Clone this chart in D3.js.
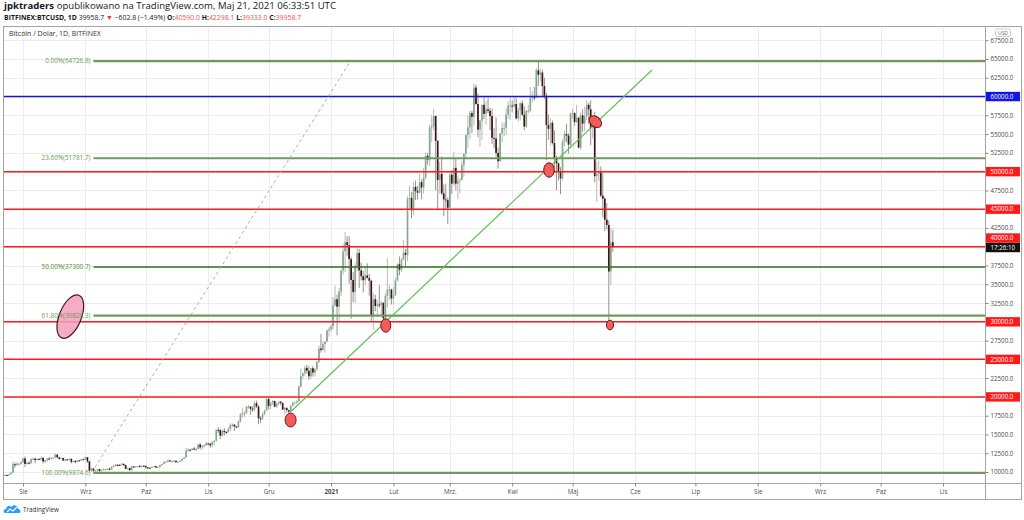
<!DOCTYPE html>
<html><head><meta charset="utf-8">
<script src="https://cdn.jsdelivr.net/npm/d3@7"></script>
<style>body{margin:0;background:#fff}svg{display:block;font-family:"Open Sans",sans-serif}</style>
</head><body><svg id="c" width="1024" height="520"></svg>
<script>
// ---------- DATA ----------
const startDay = "2020-07-23";
const firstOpen = 9530;
const closes = [
 9600,9540,9700,9930,11030,10910,11100,11110,11330,
 11800,11070,11220,11190,11740,11770,11600,11750,11680,11880,11410,11580,11780,11770,11870,11910,12300,11960,11760,11870,11520,11680,11650,11760,11350,11470,11320,11540,11510,11710,11680,
 11970,11420,10170,10470,10170,10250,10380,10130,10250,10360,10400,10440,10330,10680,10790,10960,10950,10940,11090,10920,10420,10540,10240,10740,10690,10730,10770,10700,10840,10780,
 10620,10570,10550,10670,10790,10600,10670,10920,11060,11300,11380,11550,11430,11430,11500,11320,11370,11510,11750,11920,12820,12970,12930,13120,13030,13070,13650,13280,13460,13560,13800,
 13760,13550,14030,14150,15590,15580,14830,15480,15330,15310,15700,16280,16320,16070,15960,16720,17650,17800,17820,18680,18720,18420,18370,19170,18710,17150,17140,17720,18180,19700,
 18790,19220,19450,18700,19150,19360,19170,18320,18550,18250,18040,18800,19170,19270,19440,21350,22800,23150,23870,23480,22750,23820,23240,23730,24690,26440,26250,27030,27360,28840,29000,
 29390,32200,33000,32020,34040,36820,39390,40600,40200,38350,35570,33960,37400,39170,36850,36070,35550,36180,35820,35470,30830,33010,32100,32300,32260,32520,30460,33470,34300,34300,33110,
 33530,35510,37670,36950,38300,39200,38900,46400,46500,44850,47970,47400,47200,48600,47900,49200,52100,51600,55900,56000,57400,54100,48900,49700,47100,46300,46200,45200,
 49600,48400,50500,48400,48800,48900,50900,52400,54900,55900,57800,57300,61200,59000,55600,56800,58900,57700,58300,58100,57400,54500,54400,52500,51400,55100,55800,55800,57600,58800,58800,
 58700,59000,57100,58200,59100,57600,56000,58100,58100,59800,59900,59800,63500,62900,63200,61400,60100,56200,55700,56500,53800,51700,51100,50100,49100,54000,55000,54800,53600,57700,
 57800,56600,57200,53200,57500,56400,57400,58900,58300,55800,56700,49400,49700,49900,46800,46400,43600,42900,36700,40590,39958.7
];
const highs = [
 9680,9640,9740,10050,11400,11240,11330,11180,11450,
 11880,12080,11460,11410,11800,11910,11920,11810,11800,12060,11950,11630,11810,11990,11960,11930,12470,12400,12030,11900,11900,11690,11720,11820,11770,11530,11590,11560,11600,11720,11790,
 12060,11980,11440,10570,10500,10280,10390,10430,10350,10490,10410,10480,10570,10790,10950,11100,11050,11040,11180,11100,10990,10570,10540,10770,10780,10780,10800,10950,10860,10850,
 10920,10630,10600,10690,10800,10800,10690,10960,11110,11480,11440,11720,11560,11550,11560,11540,11400,11530,11820,12020,13220,13190,13020,13160,13340,13240,13790,13850,13630,13690,14050,
 13900,13830,14070,14250,15750,15980,15770,15650,15850,15480,15970,16480,16470,16330,16150,16880,17850,18480,18140,18790,18960,18720,18770,19400,19490,18900,17450,17880,18330,19860,
 19920,19300,19570,19530,19170,19420,19420,19300,18640,18560,18280,18950,19420,19350,19570,21560,23770,23280,24170,24300,24100,23850,24100,23800,24770,26800,28400,27400,27400,28990,29300,
 29650,33300,34800,33600,34500,36950,40400,41950,41400,41400,38600,36600,37800,40100,39700,37900,36800,37300,37800,36400,35600,33800,33600,32900,34900,32800,32600,33800,38500,34900,34400,
 34600,35900,37800,38700,38500,40900,39700,46700,48100,47300,48600,48800,48100,49700,49000,50500,52600,52500,56300,57500,58350,57500,54200,51300,52000,48300,48400,46600,
 49800,50200,52600,51800,49500,49200,51400,52400,54900,57400,58100,58100,61700,61600,60400,56900,58900,60100,59400,59900,58500,58400,55800,57200,53200,55100,56600,56500,58400,59400,59800,
 59500,60100,59800,58500,59300,59500,58700,58200,58900,61300,60700,61300,63800,64800,63800,63600,62500,60500,57600,57100,56800,55500,52100,51200,50600,54300,55500,56400,55100,57900,
 58400,57900,58900,57200,57900,58300,58600,59500,59200,59500,56800,58000,51300,51500,50700,49800,46600,45800,43500,42500,42298.1
];
const lows = [
 9470,9460,9520,9650,9900,10580,10850,10830,10990,
 11220,10660,10990,11000,11080,11600,11160,11520,11570,11520,11140,11180,11300,11650,11700,11690,11800,11820,11620,11680,11490,11390,11560,11600,11130,11260,11150,11290,11450,11500,11590,
 11630,11200,10050,9990,9875,9990,9900,9990,10060,10220,10200,10290,10200,10260,10630,10690,10770,10820,10890,10760,10360,10350,10140,10200,10580,10630,10640,10640,10650,10680,
 10440,10380,10510,10520,10620,10540,10560,10560,10830,11050,11270,11250,11300,11280,11270,11230,11310,11350,11410,11700,11900,12700,12730,12880,12920,12800,13050,12980,12980,13140,13450,
 13620,13240,13300,13550,14080,15210,14380,14730,14840,15090,15280,15450,15980,15470,15820,15900,16560,17230,17340,17770,18420,17650,18000,18080,18550,16350,16520,16900,17550,18170,
 18340,18350,18930,18610,18580,18920,18920,18230,17690,17950,17600,18000,18720,19000,19060,19300,21250,22350,22800,23060,22250,22400,22700,22700,23460,24500,25900,26100,25900,27320,28000,
 28700,28950,32000,28200,29900,33450,36300,36600,38800,35100,30400,32600,32500,36700,34500,35500,33900,34900,35800,33500,30100,28900,31400,30900,31900,30900,29300,29900,31900,32900,32300,
 32300,33450,35400,36200,36600,38200,37400,38100,45000,43800,44200,46200,46300,47100,46300,47100,48900,50900,50700,53900,55500,47500,45000,47100,46900,44100,45000,43000,
 45100,47000,48100,47500,46300,47100,48900,49300,51900,53200,54300,55100,56100,58900,54600,53300,54200,57000,56300,57800,55500,53700,53100,52000,50400,51300,53900,54700,54900,57000,56900,
 57900,58500,56900,56700,56800,57400,55500,55800,57700,57900,59200,59500,59800,61400,62000,60000,59700,51500,54200,53500,53600,50500,47500,48800,47000,48800,53400,53900,52400,53100,
 57100,56100,56500,53100,52900,55300,55400,56900,56300,53500,54400,48600,46000,48800,46600,43900,42100,42300,30000,34900,39333
];
const priceTicks = [10000,12500,15000,17500,20000,22500,25000,27500,30000,32500,35000,37500,40000,42500,45000,47500,50000,52500,55000,57500,60000,62500,65000,67500];
const monthTicks = ["2020-08-01","2020-09-01","2020-10-01","2020-11-01","2020-12-01","2021-01-01","2021-02-01","2021-03-01","2021-04-01","2021-05-01","2021-06-01","2021-07-01","2021-08-01","2021-09-01","2021-10-01","2021-11-01"];
const monthLabels = ["Sie","Wrz","Paź","Lis","Gru","2021","Lut","Mrz.","Kwi","Maj","Cze","Lip","Sie","Wrz","Paź","Lis"];
const redLevels = [50000,45000,40000,30000,25000,20000];
const blueLevels = [60000];
const fibPercents = ["0.00%","23.60%","50.00%","61.80%","100.00%"];
const fibValues = [64726.8,51781.7,37300.7,30828.3,9874.6];
const fibAnchorDate = "2020-09-05 00";
const trendDashed = [["2020-09-05 19",10625],["2021-01-10 10",64600]];
const trendSolid = [["2020-12-12 02",18056],["2021-06-09 11",63535]];
const redMarkers = [["2020-12-11 22",16925],["2021-01-28 05",29510],["2021-04-19 07",50218],["2021-05-12 07",56650],["2021-05-19 14",29576]];
const pinkMarker = ["2020-08-24 12",30700];
const countdown = "17:26:10";
const headerAuthor = "jpktraders";
const headerPublished = " opublikowano na TradingView.com, Maj 21, 2021 06:33:51 UTC";
const headerSymbol = "BITFINEX:BTCUSD, 1D";
const headerLast = "39958.7";
const headerChange = "−602.8 (−1.49%)";
const ohlcKeys = ["O:","H:","L:","C:"];
const ohlcVals = ["40590.0","42298.1","39333.0","39958.7"];
const chartTitle = "Bitcoin / Dolar, 1D, BITFINEX";

// ---------- SETUP ----------
const svg = d3.select("#c");
const W = 1024, H = 520;
const L = 4, R = 985, T = 27, B = 483;
const parseD = d3.utcParse("%Y-%m-%d");
const parseH = d3.utcParse("%Y-%m-%d %H");
const x = d3.scaleUtc().domain([parseD("2020-08-01"), parseD("2021-11-01")]).range([23, 943]);
const y = d3.scaleLinear().domain([10000, 65000]).range([472, 59]);
const start = parseD(startDay);
const candles = closes.map((c, i) => ({
  d: d3.utcDay.offset(start, i),
  o: i === 0 ? firstOpen : closes[i - 1],
  c, h: highs[i], l: lows[i]
}));

svg.append("rect").attr("width", W).attr("height", H).attr("fill", "#fff");
svg.append("defs").append("clipPath").attr("id", "plot")
  .append("rect").attr("x", L).attr("y", T).attr("width", R - L).attr("height", B - T);

const plot = svg.append("g").attr("clip-path", "url(#plot)");

// grid
plot.append("g").selectAll("line").data(monthTicks).join("line")
  .attr("x1", d => Math.round(x(parseD(d))) + 0.5).attr("x2", d => Math.round(x(parseD(d))) + 0.5)
  .attr("y1", T).attr("y2", B).attr("stroke", "#ececec").attr("stroke-width", 1);
plot.append("g").selectAll("line").data(priceTicks).join("line")
  .attr("x1", L).attr("x2", R)
  .attr("y1", d => Math.round(y(d)) + 0.5).attr("y2", d => Math.round(y(d)) + 0.5)
  .attr("stroke", "#ececec").attr("stroke-width", 1);

// candles
const upCol = "#85a891", dnCol = "#3f1717", wickCol = "#b4bcb7";
const cg = plot.append("g");
cg.selectAll("line").data(candles).join("line")
  .attr("x1", d => x(d.d)).attr("x2", d => x(d.d))
  .attr("y1", d => y(Math.max(d.h, d.o, d.c))).attr("y2", d => y(Math.min(d.l, d.o, d.c)))
  .attr("stroke", d => d.c >= d.o ? wickCol : "#9a9090").attr("stroke-width", 1);
cg.selectAll("rect").data(candles).join("rect")
  .attr("x", d => x(d.d) - 0.85).attr("width", 1.7)
  .attr("y", d => y(Math.max(d.o, d.c)))
  .attr("height", d => Math.max(1, Math.abs(y(d.o) - y(d.c))))
  .attr("fill", d => d.c >= d.o ? upCol : dnCol);

// title inside plot
svg.append("text").attr("x", 9).attr("y", 36).attr("font-size", 7).attr("fill", "#333").text(chartTitle);

// horizontal levels
plot.append("g").selectAll("line").data(redLevels).join("line")
  .attr("x1", L).attr("x2", R).attr("y1", d => y(d)).attr("y2", d => y(d))
  .attr("stroke", "#ff1a1a").attr("stroke-width", 1.5);
plot.append("g").selectAll("line").data(blueLevels).join("line")
  .attr("x1", L).attr("x2", R).attr("y1", d => y(d)).attr("y2", d => y(d))
  .attr("stroke", "#1414e6").attr("stroke-width", 1.5);

// fib lines
const fibX = x(parseH(fibAnchorDate));
const fibG = plot.append("g");
fibValues.forEach((v, i) => {
  const mid = fibPercents[i] === "50.00%";
  fibG.append("line").attr("x1", fibX).attr("x2", R).attr("y1", y(v)).attr("y2", y(v))
    .attr("stroke", mid ? "#2f6f18" : "#6f9a5c").attr("stroke-width", mid ? 1.5 : 2.2);
});

// trend lines
const line = d3.line().x(p => x(parseH(p[0]))).y(p => y(p[1]));
plot.append("path").attr("d", line(trendDashed)).attr("fill", "none")
  .attr("stroke", "#8fbf8a").attr("stroke-width", 1).attr("stroke-dasharray", "3,3");
plot.append("path").attr("d", line(trendSolid)).attr("fill", "none")
  .attr("stroke", "#5fbf52").attr("stroke-width", 1.2);

// markers
const markerSize = [[5.5, 7, 0], [5, 6.7, 0], [5.3, 7.2, 0], [7, 5, 38], [3.5, 4.8, 0]];
plot.append("g").selectAll("ellipse").data(redMarkers).join("ellipse")
  .attr("transform", (d, i) => `translate(${x(parseH(d[0]))},${y(d[1])}) rotate(${markerSize[i][2]})`)
  .attr("rx", (d, i) => markerSize[i][0]).attr("ry", (d, i) => markerSize[i][1])
  .attr("fill", "#f25c5c").attr("stroke", "#7a1212").attr("stroke-width", 1);
plot.append("ellipse")
  .attr("transform", `translate(${x(parseH(pinkMarker[0]))},${y(pinkMarker[1])}) rotate(22)`)
  .attr("rx", 11).attr("ry", 23)
  .attr("fill", "#f59dbb").attr("fill-opacity", 0.85).attr("stroke", "#3a1a24").attr("stroke-width", 1.2);

// fib labels (drawn over markers)
const fibLab = plot.append("g");
fibValues.forEach((v, i) => {
  const mid = fibPercents[i] === "50.00%";
  fibLab.append("text").attr("x", fibX - 3).attr("y", y(v)).attr("dy", "0.35em")
    .attr("text-anchor", "end").attr("font-size", 6.4).attr("fill", mid ? "#4f8a2c" : "#6c9a4c")
    .text(fibPercents[i] + "(" + v.toFixed(1) + ")");
});

// frame
const frame = svg.append("g").attr("fill", "none").attr("stroke", "#a3a3a3").attr("stroke-width", 1);
frame.append("rect").attr("x", 3.5).attr("y", 26.5).attr("width", 1018).attr("height", 473);
frame.append("line").attr("x1", R + 0.5).attr("x2", R + 0.5).attr("y1", 26.5).attr("y2", 499.5);
frame.append("line").attr("x1", 3.5).attr("x2", 1021.5).attr("y1", B + 0.5).attr("y2", B + 0.5);

// price axis
const yAxis = d3.axisRight(y).tickValues(priceTicks).tickSize(3).tickPadding(2)
  .tickFormat(d => (redLevels.includes(d) || blueLevels.includes(d)) ? "" : d3.format(".1f")(d));
const ya = svg.append("g").attr("transform", `translate(${R + 0.5},0)`).call(yAxis);
ya.select(".domain").remove();
ya.selectAll("line").attr("stroke", "#888");
ya.selectAll("text").attr("font-size", 6.2).attr("fill", "#4a4a4a").attr("font-family", "Open Sans");

// USD tag
svg.append("rect").attr("x", 995.5).attr("y", 29).attr("width", 15).attr("height", 7.5).attr("rx", 1.5)
  .attr("fill", "#fff").attr("stroke", "#cfcfcf");
svg.append("text").attr("x", 1003).attr("y", 34.6).attr("text-anchor", "middle").attr("font-size", 5).attr("fill", "#666").text("USD");

// colored price labels
const lastClose = closes[closes.length - 1];
const tags = redLevels.map(v => ({ v, yy: v === 40000 ? y(lastClose) - 9 : y(v), col: "#ff1a1a", t: d3.format(".1f")(v) }))
  .concat(blueLevels.map(v => ({ v, yy: y(v), col: "#1414e6", t: d3.format(".1f")(v) })))
  .concat([{ yy: y(lastClose) + 0.5, col: "#111", t: countdown }]);
const tg = svg.append("g").selectAll("g").data(tags).join("g").attr("transform", d => `translate(${R + 1},${d.yy})`);
tg.append("rect").attr("x", 0).attr("y", -4.7).attr("width", 34).attr("height", 9.4).attr("fill", d => d.col);
tg.append("text").attr("x", 4.5).attr("y", 0).attr("dy", "0.35em").attr("font-size", 6.2).attr("fill", "#fff").text(d => d.t);

// time axis
const xAxis = d3.axisBottom(x).tickValues(monthTicks.map(parseD)).tickSize(3).tickPadding(3)
  .tickFormat((d, i) => monthLabels[i]);
const xa = svg.append("g").attr("transform", `translate(0,${B + 0.5})`).call(xAxis);
xa.select(".domain").remove();
xa.selectAll("line").attr("stroke", "#888");
xa.selectAll("text").attr("font-size", 6.2).attr("fill", "#4a4a4a").attr("font-family", "Open Sans")
  .attr("font-weight", (d, i) => monthLabels[i] === "2021" ? "bold" : null);

// header
const h1 = svg.append("text").attr("x", 4).attr("y", 9).attr("font-size", 9.6).attr("fill", "#131722");
h1.append("tspan").attr("font-weight", "bold").text(headerAuthor);
h1.append("tspan").text(headerPublished);
const h2 = svg.append("text").attr("x", 4).attr("y", 20).attr("font-size", 6.9).attr("fill", "#131722");
h2.append("tspan").attr("font-weight", "bold").text(headerSymbol);
h2.append("tspan").text("  " + headerLast + " ");
h2.append("tspan").attr("fill", "#ef3030").text("▼");
h2.append("tspan").text(" " + headerChange + " ");
ohlcKeys.forEach((k, i) => {
  h2.append("tspan").attr("font-weight", "bold").text((i ? " " : "") + k);
  h2.append("tspan").attr("fill", "#f05050").text(ohlcVals[i]);
});

// footer logo
const lg = svg.append("g").attr("transform", "translate(4,504)");
lg.append("path").attr("d", "M1,9 C-1,9 -1,5 2,5 C2,2 6,1 7.5,3 C9,0 14,1 14,5 C17,5 17,9 15,9 Z").attr("fill", "#2a9df4");
lg.append("path").attr("d", "M3,8 L6,5 L9,7 L13,3").attr("fill", "none").attr("stroke", "#fff").attr("stroke-width", 1.2);
svg.append("text").attr("x", 23).attr("y", 512).attr("font-size", 7.4).attr("fill", "#333")
  .attr("textLength", 36).attr("lengthAdjust", "spacingAndGlyphs").text("TradingView");
</script></body></html>
